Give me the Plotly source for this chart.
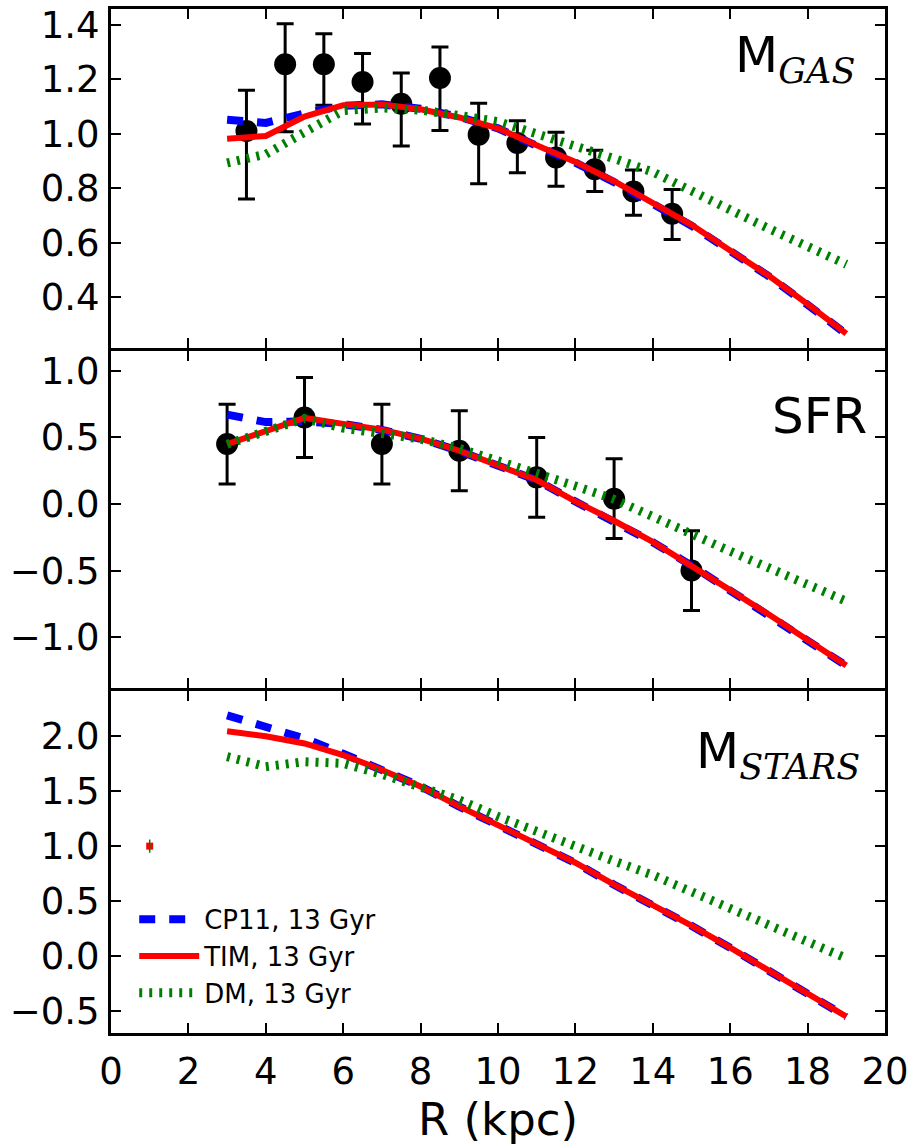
import plotly.graph_objects as go
from plotly.subplots import make_subplots

# Radial grid of the model profiles (kpc)
r_model = [3, 4, 5, 6, 7, 8, 9, 10, 11, 12, 13, 14, 15, 16, 17, 18, 19]

# Gas mass profiles
gas_cp11 = [1.052, 1.040, 1.075, 1.103, 1.108, 1.092, 1.062, 1.020, 0.956, 0.894, 0.823, 0.745, 0.663, 0.570, 0.477, 0.373, 0.265]
gas_tim = [0.982, 0.992, 1.063, 1.105, 1.108, 1.090, 1.060, 1.020, 0.958, 0.897, 0.826, 0.748, 0.666, 0.572, 0.479, 0.375, 0.267]
gas_dm = [0.893, 0.925, 1.006, 1.085, 1.095, 1.087, 1.067, 1.045, 1.000, 0.958, 0.909, 0.860, 0.794, 0.721, 0.652, 0.582, 0.521]

# Star formation rate profiles
sfr_cp11 = [0.671, 0.615, 0.620, 0.600, 0.556, 0.490, 0.398, 0.288, 0.178, 0.018, -0.128, -0.287, -0.462, -0.649, -0.832, -1.022, -1.215]
sfr_tim = [0.449, 0.550, 0.647, 0.602, 0.558, 0.491, 0.400, 0.290, 0.180, 0.020, -0.126, -0.285, -0.460, -0.647, -0.830, -1.020, -1.213]
sfr_dm = [0.449, 0.550, 0.642, 0.570, 0.528, 0.488, 0.417, 0.330, 0.230, 0.135, 0.035, -0.095, -0.230, -0.355, -0.480, -0.600, -0.730]

# Stellar mass profiles
stars_cp11 = [2.190, 2.085, 1.980, 1.840, 1.700, 1.545, 1.360, 1.188, 1.028, 0.847, 0.648, 0.465, 0.275, 0.075, -0.130, -0.332, -0.552]
stars_tim = [2.046, 2.000, 1.934, 1.829, 1.693, 1.542, 1.362, 1.190, 1.030, 0.849, 0.650, 0.467, 0.277, 0.077, -0.128, -0.330, -0.550]
stars_dm = [1.814, 1.723, 1.768, 1.753, 1.654, 1.536, 1.420, 1.270, 1.130, 0.994, 0.864, 0.737, 0.580, 0.430, 0.280, 0.130, -0.020]

# Observed gas profile with asymmetric errors
r_gas_obs = [3.5, 4.5, 5.5, 6.5, 7.5, 8.5, 9.5, 10.5, 11.5, 12.5, 13.5, 14.5]
gas_obs = [1.010, 1.255, 1.255, 1.190, 1.110, 1.205, 0.997, 0.966, 0.913, 0.870, 0.788, 0.707]
gas_err_up = [0.150, 0.149, 0.112, 0.105, 0.113, 0.114, 0.115, 0.082, 0.093, 0.070, 0.079, 0.089]
gas_err_down = [0.249, 0.247, 0.150, 0.154, 0.155, 0.193, 0.180, 0.109, 0.105, 0.082, 0.087, 0.095]

# Observed SFR profile
r_sfr_obs = [3, 5, 7, 9, 11, 13, 15]
sfr_obs = [0.45, 0.65, 0.45, 0.40, 0.20, 0.04, -0.50]
sfr_err = [0.30, 0.30, 0.30, 0.30, 0.30, 0.30, 0.30]

# Solar-neighbourhood reference point in the stellar panel
r_sun = [1.0]
stars_sun = [1.0]
stars_sun_err = [0.06]

x_ticks = [0, 2, 4, 6, 8, 10, 12, 14, 16, 18, 20]
y1_ticks = [0.4, 0.6, 0.8, 1.0, 1.2, 1.4]
y2_ticks = [-1.0, -0.5, 0.0, 0.5, 1.0]
y3_ticks = [-0.5, 0.0, 0.5, 1.0, 1.5, 2.0]

series_names = ["CP11, 13 Gyr", "TIM, 13 Gyr", "DM, 13 Gyr"]

FONT = "DejaVu Sans"
BLUE, RED, GREEN = "#0000ff", "#ff0000", "#008000"

fig = make_subplots(rows=3, cols=1, shared_xaxes=True, vertical_spacing=0)

# Observations first so the model curves sit on top
fig.add_trace(go.Scatter(
    x=r_gas_obs, y=gas_obs, mode="markers", showlegend=False,
    marker=dict(symbol="circle", size=22, color="black"),
    error_y=dict(type="data", symmetric=False, array=gas_err_up, arrayminus=gas_err_down,
                 color="black", thickness=3, width=8.5),
), row=1, col=1)
fig.add_trace(go.Scatter(
    x=r_sfr_obs, y=sfr_obs, mode="markers", showlegend=False,
    marker=dict(symbol="circle", size=22, color="black"),
    error_y=dict(type="data", array=sfr_err, color="black", thickness=3, width=8.5),
), row=2, col=1)
fig.add_trace(go.Scatter(
    x=r_sun, y=stars_sun, mode="markers", showlegend=False,
    marker=dict(symbol="square", size=7, color=RED),
), row=3, col=1)
fig.add_trace(go.Scatter(
    x=r_sun, y=stars_sun, mode="markers", showlegend=False,
    marker=dict(size=1, opacity=0),
    error_y=dict(type="data", array=stars_sun_err, color=GREEN, thickness=1.5, width=0),
), row=3, col=1)

styles = [
    dict(color=BLUE, width=8, dash="16px,14px"),
    dict(color=RED, width=6),
    dict(color=GREEN, width=9, dash="3px,7px"),
]
panels = [
    (1, [gas_cp11, gas_tim, gas_dm]),
    (2, [sfr_cp11, sfr_tim, sfr_dm]),
    (3, [stars_cp11, stars_tim, stars_dm]),
]
for row, profiles in panels:
    for i, prof in enumerate(profiles):
        fig.add_trace(go.Scatter(
            x=r_model, y=prof, mode="lines", name=series_names[i],
            line=styles[i], legendgroup=series_names[i],
            showlegend=(row == 3),
        ), row=row, col=1)

axis_common = dict(
    showline=True, linecolor="black", linewidth=3, mirror="ticks",
    ticks="inside", ticklen=10, tickwidth=2, tickcolor="black",
    showgrid=False, zeroline=False,
    tickfont=dict(family=FONT, size=37, color="black"),
)

for i in (1, 2, 3):
    fig.update_xaxes(axis_common, range=[0, 20], tickvals=x_ticks,
                     showticklabels=(i == 3), row=i, col=1)

fig.update_xaxes(title=dict(text="R (kpc)", font=dict(family=FONT, size=45, color="black"),
                            standoff=0), ticklabelstandoff=4, row=3, col=1)

# Panels separated by the axis line width so the shared borders coincide
gap = 3.0 / 1029
fig.update_yaxes(axis_common, range=[0.2145, 1.458], tickvals=y1_ticks, tickformat=".1f",
                 ticklabelstandoff=1, domain=[0.6676 + gap / 2, 1.0], row=1, col=1)
fig.update_yaxes(axis_common, range=[-1.383, 1.150], tickvals=y2_ticks, tickformat=".1f",
                 ticklabelstandoff=1, domain=[0.3353 + gap / 2, 0.6676 - gap / 2], row=2, col=1)
fig.update_yaxes(axis_common, range=[-0.700, 2.410], tickvals=y3_ticks, tickformat=".1f",
                 ticklabelstandoff=1, domain=[0.0, 0.3353 - gap / 2], row=3, col=1)

sub_style = "font-family:DejaVu Serif;font-style:italic"
labels = [
    ("x domain", "y domain", 0.9638, 0.853, "M<sub><span style=\"%s\">GAS</span></sub>" % sub_style),
    ("x2 domain", "y2 domain", 0.979, 0.806, "SFR"),
    ("x3 domain", "y3 domain", 0.970, 0.815, "M<sub><span style=\"%s\">STARS</span></sub>" % sub_style),
]
for xr, yr, xx, yy, txt in labels:
    fig.add_annotation(xref=xr, yref=yr, x=xx, y=yy, text=txt, showarrow=False,
                       xanchor="right", yanchor="middle",
                       font=dict(family=FONT, size=50, color="black"))

fig.update_layout(
    width=921, height=1146,
    margin=dict(l=111, r=36, t=4, b=113),
    paper_bgcolor="white", plot_bgcolor="white",
    font=dict(family=FONT, color="black"),
    legend=dict(x=0.03, y=0.134, xanchor="left", yanchor="top",
                bgcolor="rgba(0,0,0,0)", borderwidth=0,
                font=dict(family=FONT, size=26, color="black"),
                traceorder="grouped", tracegroupgap=0, itemwidth=60),
)

fig.write_html("out.html")
